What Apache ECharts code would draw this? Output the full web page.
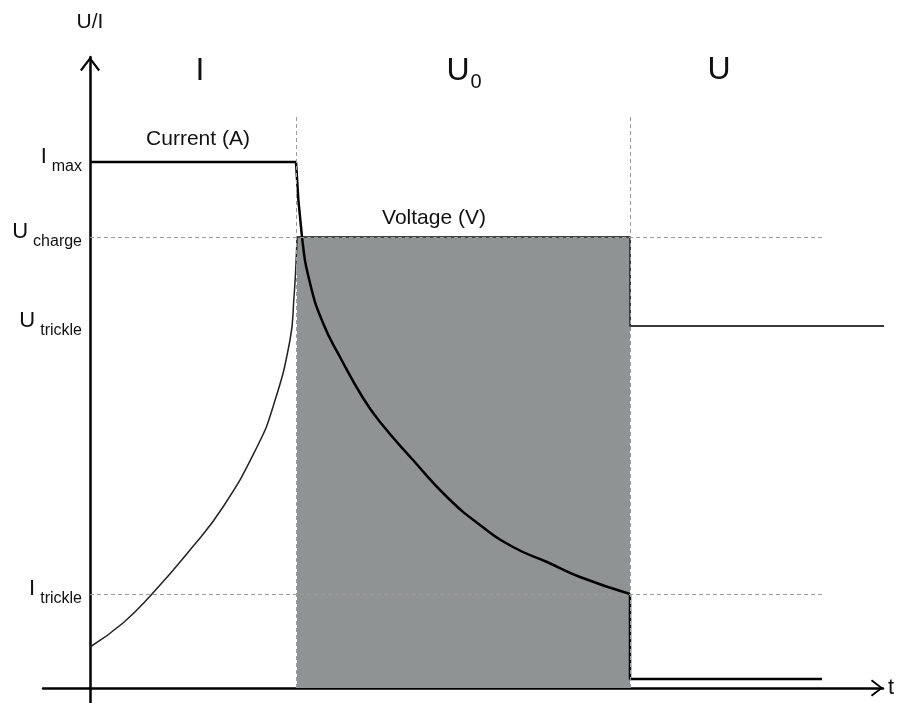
<!DOCTYPE html>
<html>
<head>
<meta charset="utf-8">
<title>Charging phases</title>
<script src="https://cdn.jsdelivr.net/npm/echarts@6/dist/echarts.min.js"></script>
<style>
  html, body { margin: 0; padding: 0; background: #fff; }
  #chart { width: 898px; height: 703px; }
</style>
</head>
<body>
<div id="chart"></div>
<script>
// y levels (arbitrary units, t and U/I)
var yLevelValues = [9.4, 36.2, 45.1, 52.6]
var yLevelBase = ['I', 'U', 'U', 'I']
var yLevelSub = ['trickle', 'trickle', 'charge', 'max']

// phase boundaries on t
var phaseBounds = [20.6, 54.0]

// current (A)
var currentFlat = [[0, 52.6], [20.6, 52.6]]
var currentDecay = [
  [20.6, 52.6], [21.2, 45.1], [22.0, 40.5], [23.3, 36.5], [25.0, 33.1],
  [27.3, 29.0], [29.0, 26.6], [32.3, 22.8], [35.7, 19.1], [39.0, 16.3],
  [42.3, 14.1], [45.7, 12.6], [49.0, 11.1], [54.0, 9.4]
]
var currentTail = [[54.0, 9.4], [54.0, 0.9], [73.2, 0.9]]

// voltage (V)
var voltageRise = [
  [0, 4.1], [3.3, 6.5], [6.2, 9.4], [10.0, 13.8], [13.3, 18.1],
  [16.7, 24.1], [18.3, 28.1], [20.0, 34.8], [20.4, 39.1], [20.6, 42.5], [20.7, 45.1]
]
var voltageHold = [[20.7, 45.1], [54.0, 45.1]]
var voltageTail = [[54.0, 45.1], [54.0, 36.2], [80.8, 36.2]]

// guide line extents
var guideTop = 57.3
var guideRight = 73.3

var font = '"Liberation Sans", Arial, Helvetica, sans-serif'
var arrowPath = 'path://M10,0 L20,13 L18.3,14.4 L10,3.4 L1.7,14.4 L0,13 Z'

var chart = echarts.init(document.getElementById('chart'))

function levelLabel(v) {
  for (var i = 0; i < yLevelValues.length; i++) {
    if (Math.abs(yLevelValues[i] - v) < 1e-6) {
      return '{b|' + yLevelBase[i] + '}{s|' + yLevelSub[i] + '}'
    }
  }
  return ''
}

var guides = []
phaseBounds.forEach(function (t) {
  guides.push([{coord: [t, 0]}, {coord: [t, guideTop]}])
})
guides.push([{coord: [0, yLevelValues[2]]}, {coord: [guideRight, yLevelValues[2]]}])
guides.push([{coord: [0, yLevelValues[0]]}, {coord: [guideRight, yLevelValues[0]]}])

function lineSeries(name, data, color, width, smooth) {
  return {
    name: name,
    type: 'line',
    data: data,
    showSymbol: false,
    symbol: 'none',
    smooth: smooth ? 0.5 : false,
    clip: false,
    silent: true,
    z: 3,
    lineStyle: {color: color, width: width},
    animation: false
  }
}

chart.setOption({
  animation: false,
  backgroundColor: '#fff',
  textStyle: {fontFamily: font, color: '#111'},
  grid: {left: 43, right: 15, top: 57, bottom: 0, containLabel: false, outerBoundsMode: 'none'},
  xAxis: {
    type: 'value',
    min: -4.7,
    max: 79.3,
    offset: -15,
    name: 't',
    nameLocation: 'end',
    nameGap: 5,
    nameTextStyle: {fontSize: 22, color: '#111', fontFamily: font},
    axisLine: {
      onZero: false,
      lineStyle: {color: '#000', width: 2.5},
      symbol: ['none', arrowPath],
      symbolSize: [17, 13],
      symbolOffset: [0, -6]
    },
    axisTick: {show: false},
    axisLabel: {show: false},
    splitLine: {show: false}
  },
  yAxis: {
    type: 'value',
    min: -1.5,
    max: 63.1,
    offset: -47,
    name: 'U/I',
    nameLocation: 'end',
    nameGap: 24,
    nameTextStyle: {fontSize: 21, color: '#111', fontFamily: font},
    axisLine: {
      onZero: false,
      lineStyle: {color: '#000', width: 2.5},
      symbol: ['none', arrowPath],
      symbolSize: [20, 15],
      symbolOffset: [0, -7]
    },
    axisTick: {show: false},
    splitLine: {show: false},
    axisLabel: {
      customValues: yLevelValues,
      margin: 8,
      formatter: levelLabel,
      rich: {
        b: {fontSize: 22, lineHeight: 22, color: '#111', fontFamily: font, padding: [0, 0, 10, 0]},
        s: {fontSize: 16, lineHeight: 16, color: '#111', fontFamily: font, padding: [10, 0, 0, 5]}
      }
    }
  },
  graphic: [
    {type: 'text', x: 200, y: 71, silent: true,
      style: {text: 'I', fontSize: 32, fontFamily: font, fill: '#111',
        align: 'center', verticalAlign: 'middle', textAlign: 'center', textVerticalAlign: 'middle'}},
    {type: 'text', x: 464, y: 71, silent: true,
      style: {text: '{u|U}{s|0}', fill: '#111',
        align: 'center', verticalAlign: 'middle', textAlign: 'center', textVerticalAlign: 'middle',
        rich: {
          u: {fontSize: 32, lineHeight: 32, fontFamily: font, fill: '#111'},
          s: {fontSize: 20, lineHeight: 20, fontFamily: font, fill: '#111', padding: [22, 0, 0, 1]}
        }}},
    {type: 'text', x: 719, y: 70, silent: true,
      style: {text: 'U', fontSize: 32, fontFamily: font, fill: '#111',
        align: 'center', verticalAlign: 'middle', textAlign: 'center', textVerticalAlign: 'middle'}},
    {type: 'text', x: 198, y: 139, silent: true,
      style: {text: 'Current (A)', fontSize: 21, fontFamily: font, fill: '#111',
        align: 'center', verticalAlign: 'middle', textAlign: 'center', textVerticalAlign: 'middle'}},
    {type: 'text', x: 434, y: 218, silent: true,
      style: {text: 'Voltage (V)', fontSize: 21, fontFamily: font, fill: '#111',
        align: 'center', verticalAlign: 'middle', textAlign: 'center', textVerticalAlign: 'middle'}}
  ],
  series: [
    {
      name: 'Voltage hold',
      type: 'line',
      data: voltageHold,
      showSymbol: false,
      symbol: 'none',
      silent: true,
      z: 1,
      lineStyle: {color: '#444', width: 2},
      areaStyle: {color: '#8f9393', opacity: 1},
      markLine: {
        silent: true,
        symbol: 'none',
        label: {show: false},
        lineStyle: {type: [4, 3], color: '#9c9c9c', width: 1},
        data: guides
      }
    },
    lineSeries('Current flat', currentFlat, '#000', 2.5, false),
    lineSeries('Current decay', currentDecay, '#000', 2.5, true),
    lineSeries('Current tail', currentTail, '#000', 2.5, false),
    lineSeries('Voltage rise', voltageRise, '#222', 1.5, true),
    lineSeries('Voltage tail', voltageTail, '#3a3a3a', 2, false)
  ]
})
</script>
</body>
</html>
